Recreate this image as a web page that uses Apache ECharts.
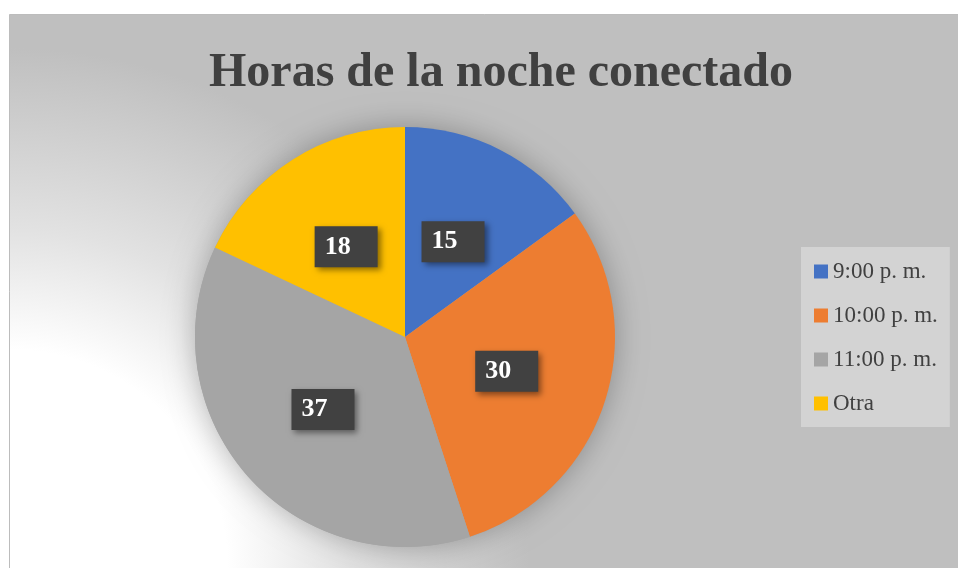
<!DOCTYPE html>
<html>
<head>
<meta charset="utf-8">
<script src="https://cdn.jsdelivr.net/npm/echarts@6/dist/echarts.min.js"></script>
<style>
  html, body { margin: 0; padding: 0; background: #fff; }
  #chart { width: 958px; height: 568px; }
</style>
</head>
<body>
<div id="chart"></div>
<script>
const titleText = "Horas de la noche conectado";
const categories = ["9:00 p. m.", "10:00 p. m.", "11:00 p. m.", "Otra"];
const values = [15, 30, 37, 18];
const colors = ["#4472C4", "#ED7D31", "#A5A5A5", "#FFC000"];

const chart = echarts.init(document.getElementById("chart"));

chart.setOption({
  animation: false,
  backgroundColor: "#ffffff",
  graphic: [
    {
      type: "rect",
      z: -10,
      shape: { x: 9.5, y: 14.5, width: 960, height: 560 },
      style: {
        fill: {
          type: "radial",
          global: true,
          x: 9, y: 568, r: 520,
          colorStops: [
            { offset: 0, color: "#ffffff" },
            { offset: 0.42, color: "#ffffff" },
            { offset: 0.65, color: "#e2e2e2" },
            { offset: 0.88, color: "#cbcbcb" },
            { offset: 1, color: "#bfbfbf" }
          ]
        },
        stroke: "#bcbcbc",
        lineWidth: 1
      }
    }
  ],
  title: {
    text: titleText,
    left: 496,
    top: 45,
    textAlign: "center",
    textStyle: {
      fontFamily: "Liberation Serif",
      fontWeight: "bold",
      fontSize: 48,
      color: "#404040"
    }
  },
  legend: {
    orient: "vertical",
    left: 801,
    top: 247,
    padding: [13, 12, 12, 13],
    backgroundColor: "#d3d3d3",
    itemWidth: 14,
    itemHeight: 14,
    itemGap: 21,
    icon: "rect",
    data: categories,
    textStyle: {
      fontFamily: "Liberation Serif",
      fontSize: 23,
      lineHeight: 22,
      color: "#404040"
    }
  },
  series: [
    {
      // soft shadow behind the whole pie
      type: "pie",
      silent: true,
      z: 1,
      center: [405, 337],
      radius: 210,
      label: { show: false },
      labelLine: { show: false },
      itemStyle: {
        color: "#a5a5a5",
        shadowBlur: 30,
        shadowColor: "rgba(0,0,0,0.28)"
      },
      data: [{ name: "", value: 1 }]
    },
    {
      type: "pie",
      z: 2,
      center: [405, 337],
      radius: 210,
      startAngle: 90,
      clockwise: true,
      color: colors,
      label: {
        show: true,
        position: "inside",
        formatter: "{c}",
        fontFamily: "Liberation Serif",
        fontWeight: "bold",
        fontSize: 26,
        lineHeight: 25,
        color: "#ffffff",
        backgroundColor: "#414141",
        padding: [8, 27, 8, 10],
        offset: [-1, 1],
        shadowColor: "rgba(0,0,0,0.45)",
        shadowBlur: 6,
        shadowOffsetX: 3,
        shadowOffsetY: 3
      },
      labelLine: { show: false },
      emphasis: { disabled: true },
      data: categories.map((name, i) => ({ name: name, value: values[i] }))
    }
  ]
});
</script>
</body>
</html>
